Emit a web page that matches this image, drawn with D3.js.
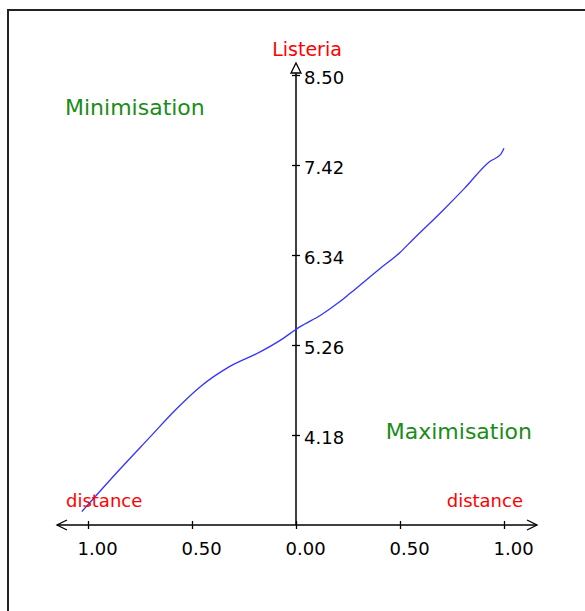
<!DOCTYPE html>
<html>
<head>
<meta charset="utf-8">
<script src="https://cdn.jsdelivr.net/npm/d3@7"></script>
<style>
  body { margin: 0; background: #fff; }
  text { font-family: "DejaVu Sans", Verdana, sans-serif; }
</style>
</head>
<body>
<svg id="chart" width="585" height="611"></svg>
<script>
// values
const distance = [-1.03, -0.85, -0.70, -0.58, -0.46, -0.32, -0.17, -0.08, 0.02, 0.12, 0.20, 0.26, 0.40, 0.50, 0.56, 0.70, 0.81, 0.93, 0.985, 1.0];
const listeria = [3.26, 3.76, 4.16, 4.48, 4.76, 5.00, 5.18, 5.31, 5.48, 5.62, 5.76, 5.88, 6.17, 6.37, 6.52, 6.86, 7.14, 7.46, 7.55, 7.62];
const yTicks = [4.18, 5.26, 6.34, 7.42, 8.50];
const xTicks = [-1, -0.5, 0, 0.5, 1];

const svg = d3.select("#chart");

// frame (runs off the right and bottom of the window)
svg.append("rect")
    .attr("x", 8).attr("y", 10)
    .attr("width", 620).attr("height", 640)
    .attr("fill", "none")
    .attr("stroke", "#222")
    .attr("stroke-width", 2);

const x = d3.scaleLinear().domain([-1, 1]).range([88, 504]);
const y = d3.scaleLinear().domain([3.10, 8.50]).range([525, 75]);

const x0 = x(0), y0 = y(3.10);

// horizontal axis line with open chevrons
svg.append("line")
    .attr("x1", 57).attr("x2", 537)
    .attr("y1", y0).attr("y2", y0)
    .attr("stroke", "#000").attr("stroke-width", 1.5);
svg.append("path")
    .attr("d", `M67,${y0 - 5} L57,${y0} L67,${y0 + 5}`)
    .attr("fill", "none").attr("stroke", "#000").attr("stroke-width", 1.3);
svg.append("path")
    .attr("d", `M527,${y0 - 5} L537,${y0} L527,${y0 + 5}`)
    .attr("fill", "none").attr("stroke", "#000").attr("stroke-width", 1.3);

// vertical axis line with open triangle on top
svg.append("line")
    .attr("x1", x0).attr("x2", x0)
    .attr("y1", y0).attr("y2", 73)
    .attr("stroke", "#000").attr("stroke-width", 1.5);
svg.append("path")
    .attr("d", `M${x0},63 L${x0 + 5},73 L${x0 - 5},73 Z`)
    .attr("fill", "#fff").attr("stroke", "#000").attr("stroke-width", 1.3);

// x ticks
const xAxis = svg.append("g")
    .attr("transform", `translate(0,${y0})`)
    .call(d3.axisBottom(x).tickValues(xTicks).tickSize(0)
        .tickFormat(d => d3.format(".2f")(Math.abs(d))));
xAxis.select(".domain").remove();
xAxis.selectAll(".tick line")
    .attr("y1", -4).attr("y2", 4)
    .attr("stroke", "#000").attr("stroke-width", 1.3);
xAxis.selectAll(".tick text")
    .attr("text-anchor", "start")
    .attr("x", -11).attr("y", 30)
    .attr("dy", null)
    .attr("fill", "#000")
    .style("font-size", "18px");

// y ticks
const yAxis = svg.append("g")
    .attr("transform", `translate(${x0},0)`)
    .call(d3.axisRight(y).tickValues(yTicks).tickSize(0)
        .tickFormat(d3.format(".2f")));
yAxis.select(".domain").remove();
yAxis.selectAll(".tick line")
    .attr("x1", -4).attr("x2", 4)
    .attr("stroke", "#000").attr("stroke-width", 1.3);
yAxis.selectAll(".tick text")
    .attr("x", 8).attr("y", 8)
    .attr("dy", null)
    .attr("fill", "#000")
    .style("font-size", "18px");

// the curve
const line = d3.line()
    .x((d, i) => x(distance[i]))
    .y(d => y(d))
    .curve(d3.curveMonotoneX);
svg.append("path")
    .datum(listeria)
    .attr("d", line)
    .attr("fill", "none")
    .attr("stroke", "#3333ff")
    .attr("stroke-width", 1.3);

// labels
svg.append("text").attr("x", 307).attr("y", 56)
    .attr("text-anchor", "middle").attr("fill", "#ff0000")
    .style("font-size", "19px").text("Listeria");
svg.append("text").attr("x", 66).attr("y", 507)
    .attr("fill", "#ff0000").style("font-size", "18px").text("distance");
svg.append("text").attr("x", 523).attr("y", 507)
    .attr("text-anchor", "end")
    .attr("fill", "#ff0000").style("font-size", "18px").text("distance");
svg.append("text").attr("x", 65).attr("y", 115)
    .attr("fill", "#1a8c1a").style("font-size", "22px").text("Minimisation");
svg.append("text").attr("x", 532).attr("y", 439)
    .attr("text-anchor", "end")
    .attr("fill", "#1a8c1a").style("font-size", "22px").text("Maximisation");
</script>
</body>
</html>
